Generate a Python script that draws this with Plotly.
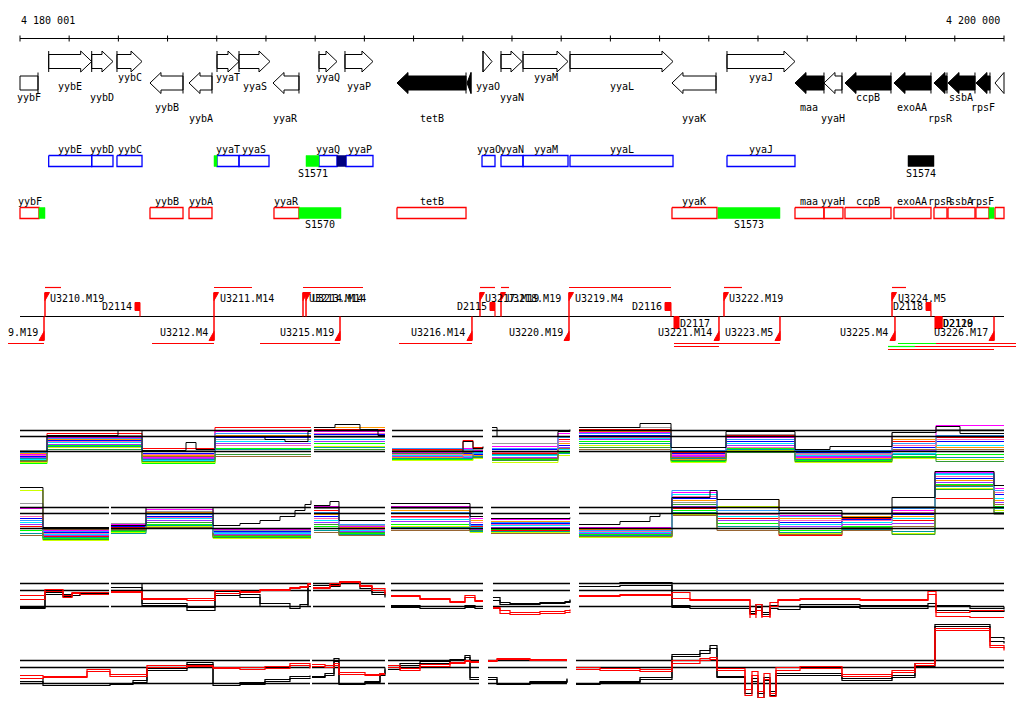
import plotly.graph_objects as go

# ===================== DATA =====================
START = 4180001
END = 4200000
SPAN = END - START

# ruler (offsets from START, bp)
ruler_ticks = [0] + [999 + 1000 * k for k in range(20)]
ruler_labels = ["4 180 001", "4 200 000"]

# ---- annotated genes (offsets from START, bp) ----
gene_names = ["yybF", "yybE", "yybD", "yybC", "yybB", "yybA", "yyaT", "yyaS", "yyaR", "yyaQ", "yyaP", "tetB", "",
              "yyaO", "yyaN", "yyaM", "yyaL", "yyaK", "yyaJ", "maa", "yyaH", "ccpB", "exoAA", "rpsR", "ssbA", "rpsF", ""]
gene_start = [-400, 583, 1457, 1971, 2642, 3435, 4004, 4451, 5142, 6077, 6605, 7662, 9085,
              9410, 9776, 10223, 11178, 13251, 14369, 15751, 16340, 16767, 17763, 18576, 18861, 19429, 19816]
gene_end = [366, 1457, 1890, 2480, 3313, 3902, 4451, 5081, 5670, 6443, 7174, 9065, 9166,
            9593, 10203, 11138, 13272, 14146, 15751, 16340, 16706, 17702, 18515, 18840, 19409, 19714, 20300]
gene_strand = ["-", "+", "+", "+", "-", "-", "+", "+", "-", "+", "+", "-", "-",
               "+", "+", "+", "+", "-", "+", "-", "-", "-", "-", "-", "-", "-", "-"]
gene_filled = [0, 0, 0, 0, 0, 0, 0, 0, 0, 0, 0, 1, 1, 0, 0, 0, 0, 0, 0, 1, 0, 1, 1, 1, 1, 1, 0]
gene_label_row = [2, 1, 2, 0, 3, 4, 0, 1, 4, 0, 1, 4, None, 1, 2, 0, 1, 4, 0, 3, 4, 2, 3, 4, 2, 3, None]

# ---- forward-strand features ----
t2_names = ["yybE", "yybD", "yybC", "yyaT", "yyaS", "yyaQ", "yyaP", "yyaO", "yyaN", "yyaM", "yyaL", "yyaJ"]
t2_start = [583, 1457, 1971, 4004, 4451, 6077, 6626, 9390, 9776, 10223, 11178, 14369]
t2_end = [1457, 1890, 2480, 4451, 5061, 6443, 7174, 9654, 10223, 11138, 13272, 15751]
t2_mark_name = ["", "S1571", "", "S1574"]
t2_mark_start = [3943, 5813, 6443, 18048]
t2_mark_end = [4004, 6077, 6626, 18576]
t2_mark_color = ["#00ff00", "#00ff00", "#000080", "#000000"]

# ---- reverse-strand features ----
t3_names = ["yybF", "yybB", "yybA", "yyaR", "tetB", "yyaK", "maa", "yyaH", "ccpB", "exoAA", "rpsR", "ssbA", "rpsF", ""]
t3_start = [0, 2642, 3435, 5162, 7662, 13251, 15751, 16340, 16767, 17763, 18576, 18861, 19429, 19816]
t3_end = [386, 3313, 3902, 5670, 9065, 14166, 16340, 16726, 17702, 18515, 18840, 19409, 19694, 19999]
t3_mark_name = ["", "S1570", "S1573", ""]
t3_mark_start = [386, 5670, 14186, 19694]
t3_mark_end = [508, 6524, 15446, 19796]

# ---- transcription units ----
up_names = ["U3210.M19", "U3211.M14", "U3213.M14", "U3214.M14", "U3217.M19", "U3218.M19", "U3219.M4", "U3222.M19", "U3224.M5"]
up_pos = [508, 3943, 5752, 5813, 9349, 9776, 11158, 14308, 17723]
up_end = [833, 4715, 6971, 6971, 9654, 9939, 13231, 14674, 18007]
down_names = ["U3209.M19", "U3212.M4", "U3215.M19", "U3216.M14", "U3220.M19", "U3221.M14", "U3223.M5", "U3225.M4", "U3226.M17"]
down_pos = [488, 3943, 6504, 9186, 11158, 14206, 15446, 17783, 19796]
span_start = [-500, 2683, 4878, 7703, 13292, 13292, 17844, 18617, 17641, 18190, 17641]
span_end = [488, 3943, 6504, 9186, 15446, 14206, 18617, 20500, 18190, 20500, 19796]
span_row = [0, 0, 0, 0, 0, 1, 0, 0, 1, 1, 2]
span_kind = ["r", "r", "r", "r", "r", "r", "g", "r", "g", "r", "r"]
d_names = ["D2114", "D2115", "D2116", "D2118", "D2117", "D2119", "D2120"]
d_start = [2337, 9552, 13109, 18414, 13292, 18596, 18637]
d_end = [2439, 9654, 13231, 18515, 13394, 18739, 18739]
d_side = ["up", "up", "up", "up", "down", "down", "down"]

# ---- expression panel 1 (many conditions, step levels per interval) ----
p1_edges = [[0, 549, 2480, 3963, 5914], [5975, 7418], [7561, 9004, 9207, 9410], [9593, 10934, 11178],
            [11361, 13231, 14349, 15751, 17723, 18617, 19999]]
p1_levels = {
    "red":         [0, 18, 3, 24, 22, 2, 11, 4, -2, 12, 22, -1, 16, -3, 10, 14],
    "magenta":     [-3, 14, -6, 20, 20, -1, 3, 1, 5, 18, 19, -4, 14, -6, 15, 26],
    "blue":        [-5, 11, -2, 14, 17, 0, -2, -3, 2, 6, 16, -2, 10, -1, 4, 10],
    "cyan":        [-8, 9, -9, 10, 12, -4, -5, -1, -4, 2, 13, -6, 8, -4, -2, 6],
    "lime":        [-12, 6, -12, 3, 8, -8, -8, -6, -8, -1, 10, -10, 3, -9, -5, -3],
    "yellowgreen": [-11, 4, -11, 0, 5, -9, -9, -7, -11, -4, 6, -11, 1, -11, -7, -8],
    "orange":      [-2, 12, -4, 16, 24, -6, -3, -4, 0, 8, 20, -8, 12, -7, 12, 4],
    "gray":        [1, 16, 1, 12, 14, -2, 1, 2, 8, 15, 24, 0, 17, -2, 19, 22],
    "purple":      [-6, 7, -7, 8, 10, -5, -6, -2, -6, 4, 12, -5, 6, -5, 1, 0],
    "pink":        [-4, 10, -3, 6, 18, -3, -4, 0, -1, 10, 14, -3, 4, -3, 6, 12],
    "teal":        [-7, 5, -8, 2, 4, -7, -7, -5, -3, -2, 8, -7, 2, -8, -3, -6],
    "darkgreen":   [-9, 2, -10, -3, 2, -2, 0, -6, -9, 0, 4, -9, -1, -10, -6, -10],
    "brown":       [-10, 0, -5, -5, 0, 1, -1, 3, -7, 3, 2, -6, 0, 0, 2, 2],
    "skyblue":     [-1, 13, 0, 18, 15, 3, 2, -2, 3, 14, 18, 1, 12, 1, 8, 16],
}
p1_black_x = [[0, 549, 1992, 2480, 3374, 3577, 3963, 4979, 5386, 5853, 5914],
              [5975, 6402, 6910, 7276, 7418],
              [7561, 9004, 9207, 9410],
              [9593, 9695, 10934, 11178],
              [11361, 12601, 13231, 14349, 15751, 16462, 17723, 18617, 19105, 19999]]
p1_black_y = [[0, 16, 21, 1, 9, 2, 15, 12, 10, 20, 22],
              [24, 27, 22, 16, 16],
              [0, 10, 3, 5],
              [24, 15, 20, 22],
              [24, 28, 4, 20, 2, 5, 19, 25, 18, 18]]

# ---- expression panel 2 ----
p2_edges = [[0, 467, 1809], [1849, 2561, 3923, 5914], [5975, 6483, 7418], [7540, 9146, 9410], [9573, 11178],
            [11361, 13251, 14166, 15426, 16706, 17723, 18596, 19796, 19999]]
p2_levels = {
    "red":         [2, -8, 1, 14, -9, 18, -6, 12, 2, -2, -8, 20, 10, -7, 10, 8, 30, 15],
    "magenta":     [20, -2, 4, 19, -1, 22, 2, 22, 10, 9, 1, 36, 22, 13, 15, 18, 56, 40],
    "blue":        [10, -4, 2, 12, -3, 12, 0, 15, 4, 5, -2, 30, 15, 6, 9, 14, 50, 34],
    "cyan":        [6, -6, -1, 10, -5, 8, -2, 9, 1, 3, -4, 34, 12, 4, 6, 10, 54, 30],
    "lime":        [-2, -10, -3, 4, -8, 2, -5, 4, -2, -1, -6, 18, 5, -2, 2, 0, 44, 22],
    "yellowgreen": [38, -12, -4, 2, -10, 0, -7, 2, -4, -4, -9, 14, 22, -5, 0, -5, 40, 18],
    "orange":      [15, 0, 3, 16, 0, 14, 1, 18, 8, 7, -1, 28, 29, 10, 12, 12, 48, 28],
    "gray":        [25, -3, 5, 17, -2, 20, 3, 20, 12, 10, 0, 26, 18, 16, 14, 22, 20, 14],
    "purple":      [4, -7, -2, 8, -6, 6, -3, 7, -1, 1, -5, 22, 8, 2, 4, 5, 46, 26],
    "pink":        [12, -5, 0, 11, -4, 10, -1, 11, 6, 4, -3, 32, 14, 8, 8, 16, 52, 36],
    "teal":        [-5, -9, -5, 3, -7, -2, -6, 1, -3, -3, -7, 16, 2, -4, -1, -3, 42, 20],
    "darkgreen":   [0, -11, -2, 6, -9, 4, -4, 0, -2, 0, -8, 24, 0, 0, 1, -6, 39, 16],
    "brown":       [-7, -1, -1, 1, -7, -4, -7, -2, 0, -5, -8, 13, -2, -6, -2, 2, 43, 24],
    "skyblue":     [8, -3, 3, 14, -4, 16, 4, 16, 3, 6, -2, 38, 18, 12, 11, 20, 55, 38],
}
p2_black_x = [[0, 467, 1809],
              [1849, 2561, 3923, 4471, 4878, 5284, 5589, 5792, 5914],
              [5975, 6300, 6483, 7418],
              [7540, 9146, 9410],
              [9573, 11178],
              [11361, 12194, 12804, 13007, 13251, 14024, 14166, 15426, 16706, 17723, 18596, 19796, 19999]]
p2_black_y = [[41, 1, 1],
              [3, 21, 3, 5, 8, 12, 18, 24, 28],
              [23, 27, 8, 8],
              [25, 12, 12],
              [10, 11],
              [4, 7, 12, 15, 31, 38, 29, 18, 11, 31, 57, 43, 43]]

# ---- expression panel 3 (averaged profiles) ----
p3_x = [[0, 508, 874, 1057, 1219, 1809],
        [1849, 2480, 3394, 3963, 4471, 4878, 5487, 5691, 5853, 5914],
        [5955, 6300, 6504, 6910, 7154, 7418],
        [7540, 8130, 8739, 9044, 9247, 9410],
        [9613, 9756, 9959, 10568, 11077, 11178],
        [11361, 12194, 13251, 13617, 14837, 14958, 15080, 15243, 15406, 15853, 17072, 18454, 18617, 19308, 19999]]
p3_black_a = [[-1, 14, 12, 13, 13, 13], [23, 3, -1, 15, 12, 3, 0, 2, 23, 23], [21, 22, 25, 20, 14, 11],
              [1, 0, 0, 1, 0, 0], [9, 4, 3, 4, 5, 7], [23, 24, 1, 0, -5, 2, -6, 1, 0, 2, 1, 3, 1, -2, 0]]
p3_black_b = [[-2, 12, 10, 11, 12, 12], [19, 1, -4, 11, 9, 0, -2, 0, 20, 20], [19, 20, 24, 18, 12, 9],
              [-1, -2, -2, -1, -2, -2], [6, 2, 2, 3, 4, 6], [20, 21, -1, -2, -7, -1, -8, -2, -3, -1, -2, 0, -4, -5, -3]]
p3_red_a = [[11, 17, 9, 14, 14, 14], [15, 8, 8, 16, 15, 17, 19, 20, 23, 23], [19, 23, 25, 21, 18, 13],
            [11, 8, 4, 11, 6, 6], [-1, -4, -6, -5, -4, -3], [11, 12, 14, 7, -12, 2, -14, 4, 7, 8, 7, 15, -6, -4, -4]]
p3_red_b = [[7, 15, 11, 13, 12, 12], [14, 7, 6, 13, 14, 16, 18, 19, 22, 22], [18, 21, 24, 20, 16, 12],
            [10, 7, 5, 9, 5, 5], [-2, -7, -8, -7, -6, -5], [10, 11, 8, 6, -8, -4, -10, 0, 6, 7, 6, 12, -10, -11, -11]]

# ---- expression panel 4 ----
p4_x = [[0, 467, 1362, 1829, 2297, 2581, 3394, 3923, 4471, 4979, 5487, 5894],
        [5935, 6199, 6382, 6483, 7012, 7317, 7418],
        [7479, 7723, 8130, 8739, 9044, 9146, 9329],
        [9512, 9695, 10365, 11117],
        [11300, 11788, 12601, 13251, 13820, 14024, 14166, 14735, 14877, 14999, 15121, 15243, 15365, 15853,
         16706, 17723, 18190, 18596, 19714, 19999]]
p4_black_a = [[5, 0, 0, 0, 3, 15, 21, 0, 1, 4, 7, 8], [7, 10, 25, 0, 2, 10, 16], [16, 20, 22, 24, 28, 6, 6],
              [6, 0, 2, 5], [0, 2, 6, 29, 33, 38, 7, -10, 5, -14, 6, -8, 10, 10, 5, 8, 20, 59, 46, 44]]
p4_black_b = [[2, -2, -2, -1, 1, 13, 19, -2, -1, 2, 5, 6], [6, 8, 22, -1, 1, 8, 14], [14, 18, 20, 23, 26, 4, 4],
              [4, -1, 1, 4], [-1, 1, 4, 27, 30, 35, 6, -6, 2, -10, 3, -12, 8, 8, 3, 6, 17, 57, 42, 40]]
p4_red_a = [[8, 7, 14, 9, 9, 18, 18, 16, 16, 17, 20, 16], [19, 18, 20, 11, 9, 10, 10], [18, 15, 19, 21, 23, 22, 22],
            [23, 25, 24, 24], [16, 15, 14, 23, 25, 26, 15, -12, 12, -14, 10, -10, 16, 17, 9, 13, 20, 55, 38, 35]]
p4_red_b = [[5, 6, 12, 7, 7, 16, 17, 15, 14, 15, 18, 15], [17, 16, 18, 9, 8, 9, 9], [16, 13, 17, 20, 22, 21, 21],
            [22, 24, 23, 23], [14, 13, 12, 20, 23, 24, 13, -6, 8, -8, 4, -13, 13, 15, 7, 11, 18, 53, 36, 33]]

# ===================== STYLE / LAYOUT =====================
PAGE_W, PAGE_H = 1024, 714
OFF = 8                                  # default page margin around the figure
W, H = PAGE_W - 2 * OFF, PAGE_H - 2 * OFF
X0_PX, X1_PX = 20, 1004                  # page pixels of START / END
BPP = SPAN / (X1_PX - X0_PX)             # bp per screen pixel
FONT = dict(family="DejaVu Sans Mono, Liberation Mono, monospace", size=10, color="black")
RED, GREEN = "#ff0000", "#00ff00"
SERIES_COLORS = {"red": "#ff0000", "magenta": "#ff00ff", "blue": "#0000ff", "cyan": "#00e5ff",
                 "lime": "#00ff00", "yellowgreen": "#ccff00", "orange": "#ff9900", "gray": "#999999",
                 "purple": "#9933ff", "pink": "#ff66b2", "teal": "#009999", "darkgreen": "#339933",
                 "brown": "#996633", "skyblue": "#3399ff"}


def X(off):
    return START + off


fig = go.Figure()
annotations = []


def label(x, y, text, anchor="center", yv="middle"):
    annotations.append(dict(x=x, y=y, xref="x", yref="y", text=text, showarrow=False,
                            xanchor=anchor, yanchor=yv, font=FONT, borderpad=0))


def add_lines(xs, ys, color, width=1, yaxis="y", shape="linear"):
    fig.add_trace(go.Scatter(x=xs, y=ys, mode="lines", yaxis=yaxis, hoverinfo="skip",
                             line=dict(color=color, width=width, shape=shape)))


def add_fill(xs, ys, fillcolor, linecolor, width=1):
    fig.add_trace(go.Scatter(x=xs, y=ys, mode="lines", fill="toself", fillcolor=fillcolor,
                             hoverinfo="skip", line=dict(color=linecolor, width=width)))


def rect(xs, ys, s, e, y0, y1):
    xs += [X(s), X(e), X(e), X(s), X(s), None]
    ys += [y0, y0, y1, y1, y0, None]


# ---- ruler ----
add_lines([X(0), X(SPAN)], [38, 38], "black")
tx, ty = [], []
for t in ruler_ticks:
    tx += [X(t), X(t), None]
    ty += [35, 41, None]
add_lines(tx, ty, "black")
label(X(0), 20, ruler_labels[0], "left")
label(X(SPAN - 3 * BPP), 20, ruler_labels[1], "right")

# ---- gene arrows ----
FWD_Y, REV_Y, SHAFT, HEAD = 61, 82.5, 7, 10.5
HEAD_BP = 11 * BPP
LABEL_ROWS = [77, 86, 97, 107, 118]
ox, oy, fx, fy, bx, by = [], [], [], [], [], []
for name, s, e, st, fl, row in zip(gene_names, gene_start, gene_end, gene_strand, gene_filled, gene_label_row):
    cs, ce = max(s, 0), min(e, SPAN)
    if st == "+":
        yc, tail, tip, tail_clip, tip_clip, d = FWD_Y, cs, ce, s < 0, e > SPAN, 1
    else:
        yc, tail, tip, tail_clip, tip_clip, d = REV_Y, ce, cs, e > SPAN, s < 0, -1
    if tip_clip:
        pts = [(tail, yc - SHAFT), (tip, yc - SHAFT), (tip, yc + SHAFT), (tail, yc + SHAFT)]
    else:
        hl = min(HEAD_BP, abs(tip - tail))
        neck = tip - d * hl
        pts = [(tail, yc - SHAFT), (neck, yc - SHAFT), (neck, yc - HEAD), (tip, yc),
               (neck, yc + HEAD), (neck, yc + SHAFT), (tail, yc + SHAFT)]
    px_ = [X(p[0]) for p in pts] + [X(pts[0][0]), None]
    py_ = [p[1] for p in pts] + [pts[0][1], None]
    if fl:
        fx += px_; fy += py_
    else:
        ox += px_; oy += py_
    if not tail_clip:
        bx += [X(tail), X(tail), None]
        by += [yc - HEAD, yc + HEAD, None]
    if name:
        label(X((cs + ce) / 2), LABEL_ROWS[row], name)
add_fill(ox, oy, "white", "black")
add_fill(fx, fy, "black", "black")
add_lines(bx, by, "black")

# ---- forward features track ----
T2_Y0, T2_Y1 = 155, 166
xs, ys = [], []
for n, s, e in zip(t2_names, t2_start, t2_end):
    rect(xs, ys, s, e, T2_Y0, T2_Y1)
    label(X((s + e) / 2), 149, n)
add_lines(xs, ys, "#0000ff", 1.3)
for n, s, e, c in zip(t2_mark_name, t2_mark_start, t2_mark_end, t2_mark_color):
    mx, my = [], []
    rect(mx, my, s, e, T2_Y0, T2_Y1)
    add_fill(mx, my, c, c, 0.5)
    if n:
        label(X((s + e) / 2), 173, n)

# ---- reverse features track ----
T3_Y0, T3_Y1 = 207, 218
xs, ys = [], []
for n, s, e in zip(t3_names, t3_start, t3_end):
    rect(xs, ys, s, e, T3_Y0, T3_Y1)
    if n:
        label(X((s + e) / 2), 201, n)
add_lines(xs, ys, RED, 1.3)
gx, gy = [], []
for n, s, e in zip(t3_mark_name, t3_mark_start, t3_mark_end):
    rect(gx, gy, s, e, T3_Y0, T3_Y1)
    if n:
        label(X((s + e) / 2), 224, n)
add_fill(gx, gy, GREEN, GREEN, 0.5)

# ---- transcription units track ----
AXIS_Y = 316
add_lines([X(0), X(SPAN)], [AXIS_Y, AXIS_Y], "black", 1.2)
vx, vy, trx, try_, sx, sy = [], [], [], [], [], []
for n, p, e in zip(up_names, up_pos, up_end):
    vx += [X(p), X(p), None]; vy += [AXIS_Y, 292, None]
    trx += [X(p), X(p + 4.5 * BPP), X(p), X(p), None]; try_ += [292, 292, 300, 292, None]
    sx += [X(p), X(e), None]; sy += [287, 287, None]
    label(X(p + 4.5 * BPP), 298, n, "left")
for n, p in zip(down_names, down_pos):
    vx += [X(p), X(p), None]; vy += [AXIS_Y, 340, None]
    trx += [X(p), X(p - 5 * BPP), X(p), X(p), None]; try_ += [340, 340, 331, 340, None]
    label(X(p - 5.5 * BPP), 332, n, "right")
add_lines(vx, vy, RED, 1.5)
add_fill(trx, try_, RED, RED, 1)
SPAN_ROWS = [343, 346, 349]
for kind, col in (("r", RED), ("g", GREEN)):
    lx, ly = [], []
    for s, e, r, k in zip(span_start, span_end, span_row, span_kind):
        if k == kind:
            lx += [X(s), X(e), None]; ly += [SPAN_ROWS[r], SPAN_ROWS[r], None]
    add_lines(lx, ly, col, 1.2)
add_lines(sx, sy, RED, 1.2)
dx, dy, dlx, dly = [], [], [], []
for n, s, e, side in zip(d_names, d_start, d_end, d_side):
    if side == "up":
        rect(dx, dy, s, e, 302, 310)
        dlx += [X(e), X(e), None]; dly += [310, AXIS_Y, None]
        label(X(s - 2 * BPP), 306, n, "right")
    else:
        rect(dx, dy, s, e, AXIS_Y, 328)
        label(X(e), 323, n, "left")
add_fill(dx, dy, RED, RED, 1)
add_lines(dlx, dly, RED, 1.2)

# ---- expression panels ----
# axis: (baseline page px, domain top page px, domain bottom page px, reference levels)
PANELS = {"y2": (451, 411, 471, [0, 15, 21]),
          "y3": (528, 465, 550, [0, 15, 21]),
          "y4": (606, 575, 628, [0, 16, 23]),
          "y5": (683, 618, 700, [0, 16, 23])}


def ref_lines(ax, segs):
    levels = PANELS[ax][3]
    lx, ly = [], []
    for seg in segs:
        for lv in levels:
            lx += [X(seg[0]), X(seg[-1]), None]
            ly += [lv, lv, None]
    add_lines(lx, ly, "black", 1.3, ax)


def step_series(edges, vals):
    xs, ys, i = [], [], 0
    for seg in edges:
        n = len(seg) - 1
        v = vals[i:i + n]
        i += n
        xs += [X(e) for e in seg] + [None]
        ys += v + [v[-1], None]
    return xs, ys


def seg_series(xsegs, ysegs):
    xs, ys = [], []
    for sx_, sy_ in zip(xsegs, ysegs):
        xs += [X(v) for v in sx_] + [None]
        ys += list(sy_) + [None]
    return xs, ys


for ax, edges, levels, bxs, bys in (("y2", p1_edges, p1_levels, p1_black_x, p1_black_y),
                                    ("y3", p2_edges, p2_levels, p2_black_x, p2_black_y)):
    for key, vals in levels.items():
        sx_, sy_ = step_series(edges, vals)
        add_lines(sx_, sy_, SERIES_COLORS[key], 1, ax, "hv")
    ref_lines(ax, edges)
    kx, ky = seg_series(bxs, bys)
    add_lines(kx, ky, "black", 1, ax, "hv")

for ax, xsegs, series in (("y4", p3_x, (p3_black_a, p3_black_b, p3_red_a, p3_red_b)),
                          ("y5", p4_x, (p4_black_a, p4_black_b, p4_red_a, p4_red_b))):
    ref_lines(ax, xsegs)
    for ser, col in zip(series, ("black", "black", RED, RED)):
        kx, ky = seg_series(xsegs, ser)
        add_lines(kx, ky, col, 1.2, ax, "hv")

layout_axes = {}
for ax, (base, top_px, bot_px, _) in PANELS.items():
    layout_axes["yaxis" + ax[1:]] = dict(domain=[1 - (bot_px - OFF) / H, 1 - (top_px - OFF) / H],
                                         range=[base - bot_px + 0.5, base - top_px + 0.5],
                                         anchor="x", visible=False, fixedrange=True)

fig.update_layout(
    width=W, height=H, margin=dict(l=0, r=0, t=0, b=0, pad=0),
    paper_bgcolor="white", plot_bgcolor="white", showlegend=False,
    xaxis=dict(range=[X(-(X0_PX - OFF) * BPP), X(SPAN + (OFF + W - X1_PX) * BPP)],
               visible=False, fixedrange=True),
    yaxis=dict(range=[OFF + H - 0.5, OFF - 0.5], domain=[0, 1], visible=False, fixedrange=True),
    annotations=annotations, hovermode=False,
    **layout_axes,
)

fig.write_html("out.html", config={"displayModeBar": False})
